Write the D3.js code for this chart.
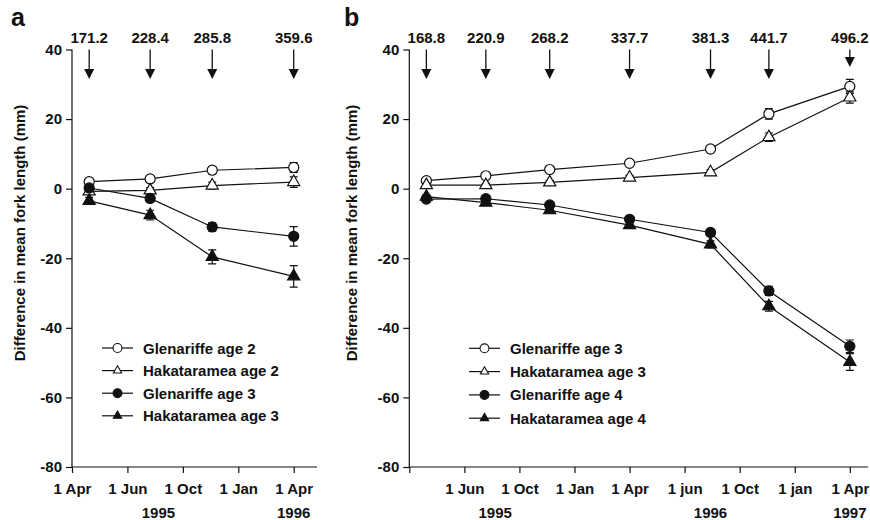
<!DOCTYPE html>
<html>
<head>
<meta charset="utf-8">
<script src="https://cdn.jsdelivr.net/npm/d3@7"></script>
<style>
    body { margin: 0; background: #fff; }
    svg text { font-family: "Liberation Sans", Arial, sans-serif; font-weight: bold; fill: #111; }
</style>
</head>
<body>
<div id="chart"></div>
<script>

//==================================//
// Data
//

// x positions are in tick units (0 = first tick)
const sampleA = [0.31, 1.41, 2.53, 4.0]
const arrowLabelsA = ['171.2', '228.4', '285.8', '359.6']
const tickLabelsA = ['1 Apr', '1 Jun', '1 Oct', '1 Jan', '1 Apr']
const yearLabelsA = ['1995', '1996']
const yearPosA = [1.56, 4]

const glen2 = [2.0, 2.8, 5.3, 6.1]
const glen2Err = [0.8, 0.8, 1.0, 1.4]
const haka2 = [-0.8, -0.5, 0.9, 1.9]
const haka2Err = [0.8, 0.8, 1.0, 1.5]
const glen3a = [0.2, -2.8, -11.0, -13.7]
const glen3aErr = [0.8, 1.0, 1.2, 2.8]
const haka3a = [-3.5, -7.6, -19.6, -25.2]
const haka3aErr = [1.0, 1.4, 2.0, 3.1]

const sampleB = [0.31, 1.39, 2.55, 4.0, 5.47, 6.53, 8.0]
const arrowLabelsB = ['168.8', '220.9', '268.2', '337.7', '381.3', '441.7', '496.2']
const tickLabelsB = ['', '1 Jun', '1 Oct', '1 Jan', '1 Apr', '1 jun', '1 Oct', '1 jan', '1 Apr']
const yearLabelsB = ['1995', '1996', '1997']
const yearPosB = [1.56, 5.47, 8]

const glen3b = [2.3, 3.7, 5.5, 7.3, 11.4, 21.5, 29.4]
const glen3bErr = [0.5, 0.5, 0.5, 0.6, 0.8, 1.5, 2.0]
const haka3b = [1.0, 1.0, 1.8, 3.2, 4.7, 14.8, 26.2]
const haka3bErr = [0.5, 0.5, 0.5, 0.6, 0.8, 1.2, 1.6]
const glen4 = [-3.0, -2.9, -4.7, -8.8, -12.6, -29.4, -45.3]
const glen4Err = [0.5, 0.5, 0.6, 0.8, 1.0, 1.3, 1.8]
const haka4 = [-2.3, -4.0, -6.2, -10.5, -16.0, -33.8, -49.8]
const haka4Err = [0.5, 0.6, 0.7, 0.8, 1.0, 1.4, 2.4]

const yTicks = [-80, -60, -40, -20, 0, 20, 40]


//==================================//
// Append SVG
//

const svgw = 870, svgh = 520

let svg = d3.select('#chart').append('svg')
    .attr('width', svgw)
    .attr('height', svgh)

const y = d3.scaleLinear().domain([-80, 40]).range([467, 49.5])

const circleSym = d3.symbol().type(d3.symbolCircle).size(80)
const triSym = d3.symbol().type(d3.symbolTriangle).size(64)
const circleSmall = d3.symbol().type(d3.symbolCircle).size(62)
const triSmall = d3.symbol().type(d3.symbolTriangle).size(30)


//==================================//
// Panel drawing
//

function drawPanel(p) {
    let x = d3.scaleLinear().domain([0, p.xMax]).range([p.left, p.right])
    let g = svg.append('g')

    //====[ panel letter ]====//
    g.append('text')
        .attr('x', p.letterX)
        .attr('y', 26)
        .style('font-size', '25px')
        .text(p.letter)

    //====[ y axis ]====//
    let yAxis = g.append('g')
        .attr('transform', 'translate(' + p.left + ',0)')
        .call(d3.axisLeft(y).tickValues(yTicks).tickSize(6).tickPadding(4)
            .tickFormat(d => String(d)))
    yAxis.select('.domain').attr('d', 'M0,' + y(40) + 'V' + y(-80))
    yAxis.selectAll('text').style('font-size', '15px').style('font-family', null)
    yAxis.selectAll('line, path').attr('stroke', '#111').attr('stroke-width', 1.2)

    g.append('text')
        .attr('transform', 'translate(' + p.ylabelX + ',233) rotate(-90)')
        .attr('text-anchor', 'middle')
        .style('font-size', '15px')
        .text('Difference in mean fork length (mm)')

    //====[ x axis ]====//
    let xAxis = g.append('g')
        .attr('transform', 'translate(0,' + y(-80) + ')')
        .call(d3.axisBottom(x).tickValues(d3.range(p.tickLabels.length))
            .tickSize(6).tickPadding(10)
            .tickFormat((d, i) => p.tickLabels[i]))
    xAxis.select('.domain').attr('d', 'M' + p.left + ',0H' + p.right)
    xAxis.selectAll('text').style('font-size', '15px').style('font-family', null)
    xAxis.selectAll('line, path').attr('stroke', '#111').attr('stroke-width', 1.2)

    g.selectAll('.year')
        .data(p.years)
        .enter()
        .append('text')
        .attr('x', (d, i) => x(p.yearPos[i]))
        .attr('y', 518)
        .attr('text-anchor', 'middle')
        .style('font-size', '15px')
        .text(d => d)

    //====[ arrows ]====//
    let arrows = g.selectAll('.arrow')
        .data(p.sample)
        .enter()
        .append('g')
        .attr('transform', d => 'translate(' + x(d) + ',0)')
    arrows.append('line')
        .attr('y1', y(40))
        .attr('y2', (d, i) => (p.shortLast && i === p.sample.length - 1) ? 58 : 69)
        .attr('stroke', '#111')
        .attr('stroke-width', 1.3)
    arrows.append('path')
        .attr('d', (d, i) => {
            let tip = (p.shortLast && i === p.sample.length - 1) ? 67 : 79
            return 'M-5,' + (tip - 10) + 'L5,' + (tip - 10) + 'L0,' + tip + 'Z'
        })
        .attr('fill', '#111')
    g.selectAll('.arrowLabel')
        .data(p.arrowLabels)
        .enter()
        .append('text')
        .attr('x', (d, i) => x(p.sample[i]))
        .attr('y', 42.5)
        .attr('text-anchor', 'middle')
        .style('font-size', '15px')
        .text(d => d)

    //====[ series ]====//
    let line = d3.line()
        .x((d, i) => x(p.sample[i]))
        .y(d => y(d))

    p.series.forEach(s => {
        let sg = g.append('g')
        sg.append('path')
            .datum(s.values)
            .attr('d', line)
            .attr('fill', 'none')
            .attr('stroke', '#111')
            .attr('stroke-width', 1.2)

        let eb = sg.selectAll('.err')
            .data(s.values)
            .enter()
            .append('path')
            .attr('d', (d, i) => {
                let cx = x(p.sample[i]), e = s.err[i]
                let top = y(d + e), bot = y(d - e)
                return 'M' + (cx - 4) + ',' + top + 'H' + (cx + 4) +
                    'M' + cx + ',' + top + 'V' + bot +
                    'M' + (cx - 4) + ',' + bot + 'H' + (cx + 4)
            })
            .attr('fill', 'none')
            .attr('stroke', '#111')
            .attr('stroke-width', 1.2)

        sg.selectAll('.mark')
            .data(s.values)
            .enter()
            .append('path')
            .attr('transform', (d, i) => 'translate(' + x(p.sample[i]) + ',' + y(d) + ')')
            .attr('d', s.shape === 'circle' ? circleSym : triSym)
            .attr('fill', s.filled ? '#111' : '#fff')
            .attr('stroke', '#111')
            .attr('stroke-width', 1.2)
    })

    //====[ legend ]====//
    let lg = g.append('g')
    p.series.forEach((s, i) => {
        let ly = p.legendY + i * p.legendStep
        lg.append('line')
            .attr('x1', p.legendX)
            .attr('x2', p.legendX + 31)
            .attr('y1', ly)
            .attr('y2', ly)
            .attr('stroke', '#111')
            .attr('stroke-width', 1.2)
        lg.append('path')
            .attr('transform', 'translate(' + (p.legendX + 15.5) + ',' + ly + ')')
            .attr('d', s.shape === 'circle' ? circleSmall : triSmall)
            .attr('fill', s.filled ? '#111' : '#fff')
            .attr('stroke', '#111')
            .attr('stroke-width', 1.1)
        lg.append('text')
            .attr('x', p.legendX + 41)
            .attr('y', ly + 5.5)
            .style('font-size', '15px')
            .text(s.name)
    })
}


//==================================//
// Draw both panels
//

drawPanel({
    letter: 'a', letterX: 11, ylabelX: 24.5,
    left: 72, right: 317, xMax: 4.42,
    sample: sampleA, arrowLabels: arrowLabelsA,
    tickLabels: tickLabelsA, years: yearLabelsA, yearPos: yearPosA,
    shortLast: false,
    legendX: 102, legendY: 348, legendStep: 22.6,
    series: [
        {name: 'Glenariffe age 2', values: glen2, err: glen2Err, shape: 'circle', filled: false},
        {name: 'Hakataramea age 2', values: haka2, err: haka2Err, shape: 'triangle', filled: false},
        {name: 'Glenariffe age 3', values: glen3a, err: glen3aErr, shape: 'circle', filled: true},
        {name: 'Hakataramea age 3', values: haka3a, err: haka3aErr, shape: 'triangle', filled: true},
    ]
})

drawPanel({
    letter: 'b', letterX: 344, ylabelX: 356.5,
    left: 409.3, right: 868, xMax: 8.33,
    sample: sampleB, arrowLabels: arrowLabelsB,
    tickLabels: tickLabelsB, years: yearLabelsB, yearPos: yearPosB,
    shortLast: true,
    legendX: 469, legendY: 348.3, legendStep: 23.3,
    series: [
        {name: 'Glenariffe age 3', values: glen3b, err: glen3bErr, shape: 'circle', filled: false},
        {name: 'Hakataramea age 3', values: haka3b, err: haka3bErr, shape: 'triangle', filled: false},
        {name: 'Glenariffe age 4', values: glen4, err: glen4Err, shape: 'circle', filled: true},
        {name: 'Hakataramea age 4', values: haka4, err: haka4Err, shape: 'triangle', filled: true},
    ]
})

</script>
</body>
</html>
